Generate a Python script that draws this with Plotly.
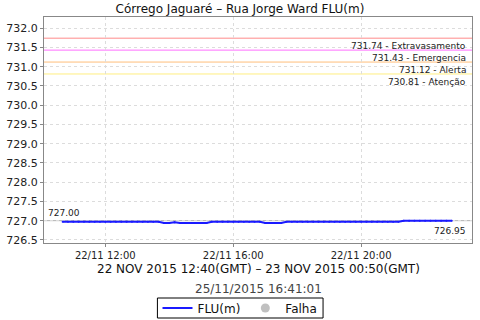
import plotly.graph_objects as go
import pandas as pd

# ---- data ----
start_time = "2015-11-22 10:40"
n_points = 74  # 10-minute readings 10:40 .. 22:50 (local)
flu_values = (
    [726.97] * 19 + [726.94] * 2 + [726.96] + [726.94] * 6 + [726.97] * 10 +
    [726.94] * 4 + [726.97] * 22 + [727.00] * 10
)
threshold_values = [731.74, 731.43, 731.12, 730.81]
threshold_names = ["Extravasamento", "Emergencia", "Alerta", "Atenção"]
threshold_colors = ["#ff8a8a", "#ff70ff", "#ffbe7a", "#ffef80"]
tick_times = ["2015-11-22 12:00", "2015-11-22 16:00", "2015-11-22 20:00"]
tick_labels = ["22/11 12:00", "22/11 16:00", "22/11 20:00"]
y_ticks = [726.5 + 0.5 * i for i in range(12)]
ref_value = 727.0
max_label = "727.00"
last_label = "726.95"

times = pd.date_range(start_time, periods=n_points, freq="10min")

fig = go.Figure()
for v, c in zip(threshold_values, threshold_colors):
    fig.add_hline(y=v, line=dict(color=c, width=1), layer="below")
fig.add_hline(y=ref_value, line=dict(color="#b0b0b0", width=1), layer="below")

fig.add_trace(go.Scatter(
    x=times, y=flu_values[:n_points], mode="lines+markers", name="FLU(m)",
    line=dict(color="#1a1aff", width=2), marker=dict(size=2, color="#1a1aff"),
))
fig.add_trace(go.Scatter(
    x=[None], y=[None], mode="markers", name="Falha",
    marker=dict(size=9, color="#c0c0c0"),
))

for v, name in zip(threshold_values, threshold_names):
    fig.add_annotation(
        x=1, xref="paper", y=v, yref="y", text=f"{v:.2f} - {name}",
        showarrow=False, xanchor="right", yanchor="top", xshift=-4, yshift=-1,
        font=dict(family="DejaVu Sans", size=9, color="#222"),
    )
fig.add_annotation(x=0, xref="paper", y=ref_value, yref="y", text=max_label,
                   showarrow=False, xanchor="left", yanchor="bottom", xshift=2, yshift=1,
                   font=dict(family="DejaVu Sans", size=9, color="#222"))
fig.add_annotation(x=1, xref="paper", y=ref_value, yref="y", text=last_label,
                   showarrow=False, xanchor="right", yanchor="top", xshift=-4, yshift=-3,
                   font=dict(family="DejaVu Sans", size=9, color="#222"))

fig.add_annotation(x=0.5, xref="paper", y=-0.115, yref="paper",
                   text="22 NOV 2015 12:40(GMT) – 23 NOV 2015 00:50(GMT)",
                   showarrow=False, xanchor="center", yanchor="middle",
                   font=dict(family="DejaVu Sans", size=12, color="#111"))
fig.add_annotation(x=0.5, xref="paper", y=-0.2035, yref="paper",
                   text="25/11/2015 16:41:01",
                   showarrow=False, xanchor="center", yanchor="middle",
                   font=dict(family="DejaVu Sans", size=12, color="#444"))

# legend frame (plot area: x 44..472, y 17..243 px)
fig.add_shape(type="rect", xref="paper", yref="paper",
              x0=0.265, x1=0.652, y0=-0.2434, y1=-0.3319,
              line=dict(color="black", width=1), fillcolor="rgba(0,0,0,0)")

fig.update_layout(
    width=480, height=320,
    margin=dict(l=44, r=8, t=17, b=77, autoexpand=False),
    paper_bgcolor="white", plot_bgcolor="white",
    title=dict(text="Córrego Jaguaré – Rua Jorge Ward FLU(m)", x=0.5, xanchor="center",
               y=0.972, yanchor="middle",
               font=dict(family="DejaVu Sans", size=12, color="#111")),
    font=dict(family="DejaVu Sans", size=10, color="#222"),
    showlegend=True,
    legend=dict(orientation="h", x=0.5, xanchor="center", xref="container",
                y=0.0375, yanchor="middle", yref="container",
                borderwidth=0, bgcolor="rgba(0,0,0,0)",
                font=dict(family="DejaVu Sans", size=12, color="#111"),
                itemwidth=30, tracegroupgap=0),
    xaxis=dict(range=["2015-11-22 10:05", "2015-11-22 23:28"],
               tickvals=tick_times, ticktext=tick_labels,
               showgrid=True, gridcolor="#dcdcdc", griddash="3px,3px", gridwidth=1,
               showline=True, linecolor="#888", mirror=True, ticks="outside",
               ticklen=3, tickcolor="#888", zeroline=False,
               tickfont=dict(size=10, color="#222")),
    yaxis=dict(range=[726.42, 732.29], tickvals=y_ticks,
               ticktext=[f"{v:.1f}" for v in y_ticks],
               showgrid=True, gridcolor="#dcdcdc", griddash="3px,3px", gridwidth=1,
               showline=True, linecolor="#888", mirror=True, ticks="outside",
               ticklen=3, tickcolor="#888", zeroline=False,
               tickfont=dict(size=11, color="#222")),
)

fig.write_html("out.html")
